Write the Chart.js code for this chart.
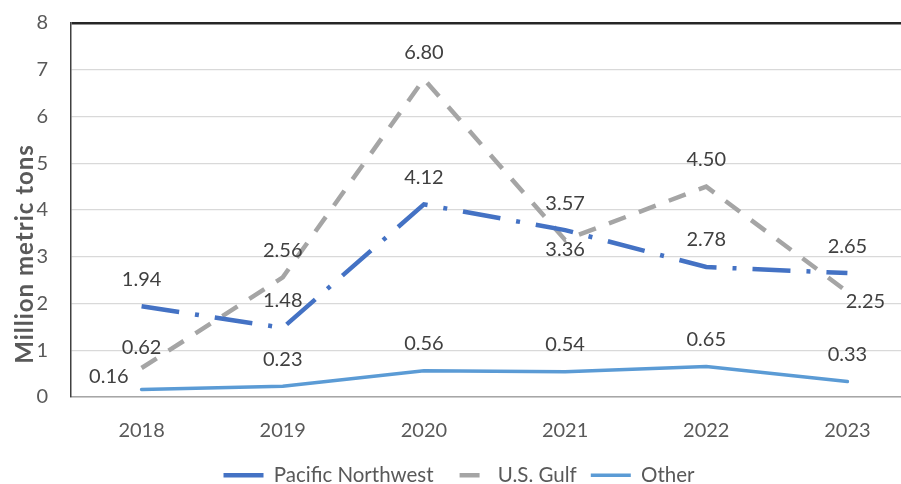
<!DOCTYPE html>
<html>
<head>
<meta charset="utf-8">
<script src="https://cdn.jsdelivr.net/npm/chart.js@4"></script>
<style>
  html, body { margin: 0; padding: 0; background: #fff; overflow: hidden; }
  #wrap { position: relative; width: 920px; height: 484px; }
</style>
</head>
<body>
<div id="wrap"><canvas id="chart"></canvas></div>
<script>
const years = ['2018', '2019', '2020', '2021', '2022', '2023'];
const pacificNorthwest = [1.94, 1.48, 4.12, 3.57, 2.78, 2.65];
const usGulf = [0.62, 2.56, 6.80, 3.36, 4.50, 2.25];
const other = [0.16, 0.23, 0.56, 0.54, 0.65, 0.33];

// where each value label sits relative to its point
const pnwLabelPos = ['above', 'above', 'above', 'above', 'above', 'above'];
const gulfLabelPos = ['aboveNear', 'above', 'above', 'below', 'above', 'belowRight'];
const otherLabelPos = ['left', 'above', 'above', 'above', 'above', 'above'];

const FONT = 'Lato, "Open Sans", sans-serif';

const valueLabels = {
    id: 'valueLabels',
    beforeLayout(chart) {
        // squeeze the legend box so it sits close under the axis labels
        const lg = chart.legend;
        if (lg && !lg._fitPatched) {
            const fit = lg.fit;
            lg.fit = function () { fit.call(this); this.height = 33; };
            lg._fitPatched = true;
        }
    },
    afterDatasetsDraw(chart) {
        const ctx = chart.ctx;
        ctx.save();
        ctx.font = '20px ' + FONT;
        ctx.fillStyle = '#404040';
        ctx.textBaseline = 'middle';
        chart.data.datasets.forEach((ds, i) => {
            const meta = chart.getDatasetMeta(i);
            meta.data.forEach((pt, j) => {
                const text = ds.data[j].toFixed(2);
                const pos = ds.labelPos[j];
                let x = pt.x, y = pt.y;
                ctx.textAlign = 'center';
                if (pos === 'above') y -= 27;
                else if (pos === 'aboveNear') y -= 20;
                else if (pos === 'below') y += 10;
                else if (pos === 'belowRight') { y += 10; x += 18; }
                else if (pos === 'left') { ctx.textAlign = 'right'; x -= 13; y -= 13; }
                ctx.fillText(text, x, y);
            });
        });
        // y axis title, placed like the original (a bit below centre)
        ctx.translate(25, 254);
        ctx.rotate(-Math.PI / 2);
        ctx.font = 'bold 24px ' + FONT;
        ctx.letterSpacing = '1px';
        ctx.fillStyle = '#595959';
        ctx.textAlign = 'center';
        ctx.fillText('Million metric tons', 0, 0);
        ctx.restore();
    }
};

new Chart(document.getElementById('chart'), {
    type: 'line',
    data: {
        labels: years,
        datasets: [
            {
                label: 'Pacific Northwest',
                data: pacificNorthwest,
                labelPos: pnwLabelPos,
                borderColor: '#4472C4',
                backgroundColor: '#4472C4',
                borderWidth: 4.5,
                borderDash: [38, 16, 4, 16],
                pointRadius: 0,
                tension: 0
            },
            {
                label: 'U.S. Gulf',
                data: usGulf,
                labelPos: gulfLabelPos,
                borderColor: '#A5A5A5',
                backgroundColor: '#A5A5A5',
                borderWidth: 4.5,
                borderDash: [18, 14],
                pointRadius: 0,
                tension: 0
            },
            {
                label: 'Other',
                data: other,
                labelPos: otherLabelPos,
                borderColor: '#5B9BD5',
                backgroundColor: '#5B9BD5',
                borderWidth: 3.5,
                borderCapStyle: 'round',
                pointRadius: 0,
                tension: 0
            }
        ]
    },
    options: {
        responsive: true,
        maintainAspectRatio: false,
        animation: false,
        layout: { padding: { top: 23, right: 2, left: 0, bottom: 0 } },
        scales: {
            x: {
                offset: true,
                grid: { display: false, drawTicks: false },
                border: { color: '#A6A6A6', width: 1.5 },
                ticks: { color: '#595959', font: { family: FONT, size: 20 }, padding: 22, maxRotation: 0 },
                afterFit(scale) { scale.height = 54; }
            },
            y: {
                min: 0,
                max: 8,
                ticks: { stepSize: 1, color: '#595959', font: { family: FONT, size: 20 }, padding: 23 },
                grid: {
                    drawTicks: false,
                    color: (c) => c.tick.value === 8 ? '#262626' : '#D9D9D9',
                    lineWidth: (c) => c.tick.value === 8 ? 2.5 : 1.2
                },
                border: { color: '#404040', width: 1.5 },
                afterFit(scale) {
                    scale.width = 71;
                    scale.paddingTop = 12;
                    scale.paddingBottom = 12;
                }
            }
        },
        plugins: {
            legend: {
                position: 'bottom',
                labels: {
                    usePointStyle: true,
                    pointStyle: 'line',
                    pointStyleWidth: 40,
                    color: '#595959',
                    font: { family: FONT, size: 20.5 },
                    padding: 14,
                    generateLabels(chart) {
                        const items = Chart.defaults.plugins.legend.labels.generateLabels(chart);
                        items.forEach(it => {
                            if (it.text === 'U.S. Gulf') { it.lineDash = [20, 40]; it.lineDashOffset = -12; }
                            else { it.lineDash = []; }
                        });
                        return items;
                    }
                }
            },
            tooltip: { enabled: false }
        }
    },
    plugins: [valueLabels]
});
</script>
</body>
</html>
